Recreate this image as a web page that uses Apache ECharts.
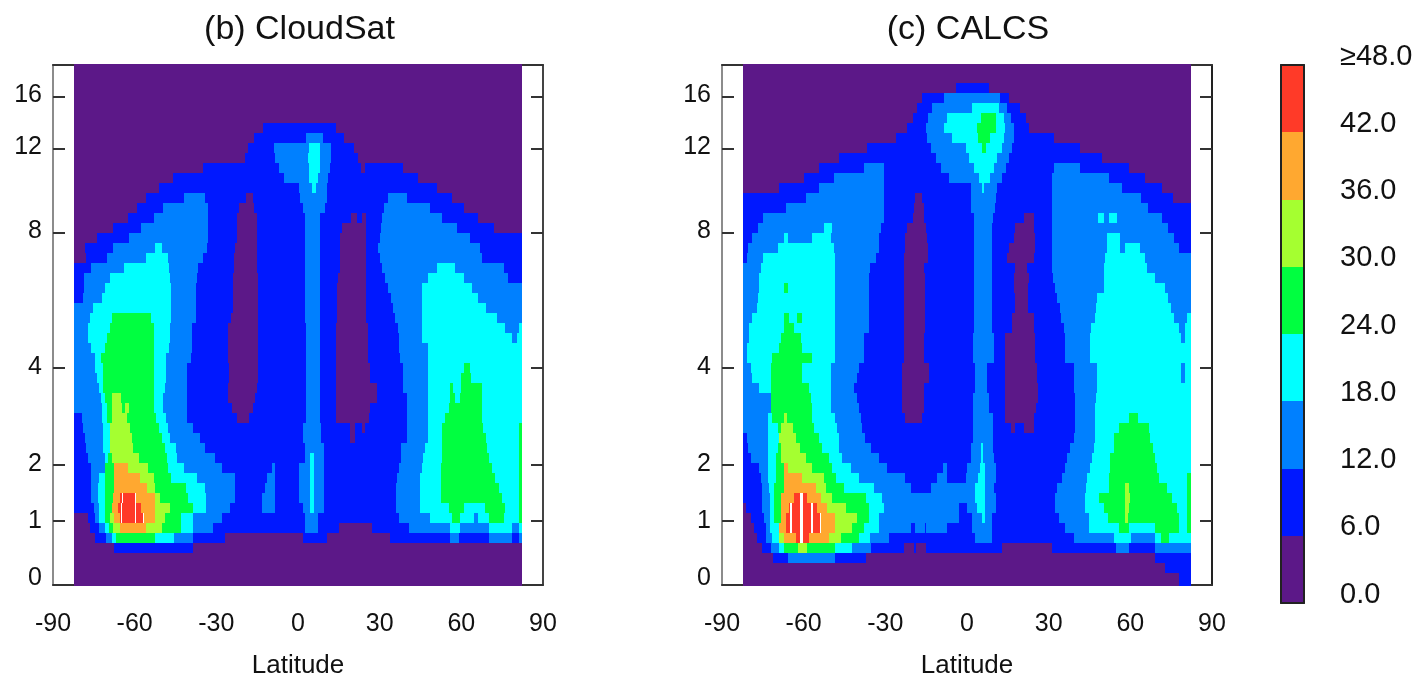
<!DOCTYPE html>
<html>
<head>
<meta charset="utf-8">
<title>CloudSat / CALCS</title>
<script src="https://cdn.jsdelivr.net/npm/echarts@6/dist/echarts.min.js"></script>
<style>
html, body { margin: 0; padding: 0; background: #fff; }
#chart { width: 1419px; height: 674px; }
</style>
</head>
<body>
<div id="chart"></div>
<script>
// colour classes of the field, 0 = 0-6 ... 7 = >=42, 8 = off scale (white streaks)
var levelColors = ['#5c1888', '#0018ff', '#0080ff', '#00ffff', '#00ff40', '#a5ff30', '#ffa830', '#ff3a28', '#ffffff'];
var scaleValues = [0, 6, 12, 18, 24, 30, 36, 42, 48];
var latTicks = [-90, -60, -30, 0, 30, 60, 90];
var heightLabels = ['0', '1', '2', '4', '8', '12', '16'];
var heightLabelPos = [7, 64, 121, 218, 354, 438, 490];
var heightTickPos = [64, 120, 217, 352, 436, 488];

// each row, top to bottom: class, latitude where it ends, class, latitude where it ends...
var cloudsatRows = [
    [0,82.4],[0,82.4],[0,82.4],[0,82.4],[0,82.4],[0,82.4],
    [0,-13,1,14,0,82.4],
    [0,-16,1,3,2,9,1,17,0,82.4],
    [0,-18.5,1,-9,2,4,3,8,2,12,1,20.5,0,82.4],
    [0,-19.5,1,-8.5,2,3.5,3,8,2,12,1,22,0,82.4],
    [0,-35,1,-7,2,4,3,8,2,11.8,1,23,0,24.5,1,38.7,0,82.4],
    [0,-46,1,-5,2,4,3,7.5,2,11,1,44,0,82.4],
    [0,-51,1,0.5,2,5,3,6.5,2,10.5,1,51,0,82.4],
    [0,-56,1,-42,2,-34,1,-19,0,-16.5,1,0.7,2,10.5,1,33,2,40,1,56.5,0,82.4],
    [0,-59,1,-49.5,2,-33,1,-21.5,0,-16,1,2,2,10,1,31.7,2,48.5,1,61,0,82.4],
    [0,-62.5,1,-53,2,-33,1,-22.5,0,-15,1,2.6,2,8,1,19.5,0,21.5,1,23.5,0,25,1,31,2,53,1,66,0,82.4],
    [0,-68,1,-57.5,2,-33,1,-22.5,0,-15,1,2.6,2,8,1,16,0,25,1,30.5,2,58.5,1,72,0,82.4],
    [0,-74,1,-62,2,-33,1,-22.5,0,-15,1,2.6,2,8,1,15.5,0,25,1,30,2,63,1,82.4],
    [0,-78.3,1,-68,2,-52.5,3,-50,2,-33.6,1,-23,0,-15,1,2.6,2,8,1,15.5,0,25,1,29.5,2,67,1,82.4],
    [0,-78,1,-70,2,-56,3,-47.7,2,-35,1,-23.5,0,-15,1,2.6,2,8,1,15.5,0,25,1,30,2,67.5,1,82.4],
    [1,-76,2,-64,3,-47.5,2,-36.6,1,-23.5,0,-15,1,2.6,2,8,1,15.5,0,25,1,31,2,51,3,57.7,2,75.5,1,82.4],
    [1,-78.5,2,-69,3,-47.2,2,-37,1,-23.8,0,-14.6,1,2.6,2,8,1,14.6,0,25,1,32,2,47.9,3,61,2,77,1,82.4],
    [1,-78.5,2,-71,3,-46.5,2,-37.3,1,-24,0,-14.6,1,2.6,2,8,1,14.2,0,25,1,33,2,45.7,3,64,2,82.4],
    [1,-79,2,-72,3,-46.5,2,-37.3,1,-24,0,-14.6,1,2.6,2,8,1,14.2,0,25,1,34,2,45.5,3,66,2,82.4],
    [2,-75.2,3,-46.5,2,-37.3,1,-24,0,-14.6,1,2.6,2,8,1,14.2,0,25,1,35,2,45.5,3,69,2,82.4],
    [2,-76.5,3,-68.5,4,-54,3,-46.5,2,-37.3,1,-24.5,0,-14.6,1,2.6,2,8,1,14.2,0,25,1,35.5,2,45.5,3,73,2,82.4],
    [2,-77,3,-69,4,-53,3,-47,2,-39,1,-25.6,0,-14.6,1,2.8,2,8.2,1,13.8,0,25.6,1,36.6,2,45.5,3,76,2,81,3,82.4],
    [2,-77,3,-70,4,-53,3,-47,2,-39,1,-25.6,0,-14.6,1,2.8,2,8.2,1,13.8,0,25.6,1,37,2,45.5,3,78.6,2,80.4,3,82.4],
    [2,-76,3,-71,4,-53,3,-47.5,2,-39,1,-25.6,0,-14.6,1,2.8,2,8.2,1,13.8,0,25.6,1,37,2,47.7,3,82.4],
    [2,-74.6,3,-72.5,4,-53,3,-48.5,2,-39.4,1,-25.6,0,-14.6,1,2.8,2,8.2,1,13.8,0,25.6,1,37.5,2,47.7,3,82.4],
    [2,-74.6,3,-71.6,4,-53,3,-48.5,2,-40.7,1,-25.4,0,-14.8,1,2.8,2,8.2,1,13.9,0,26.5,1,38.7,2,47.7,3,61,4,63,3,82.4],
    [2,-74,3,-71.6,4,-53,3,-48.5,2,-40.7,1,-25.4,0,-14.8,1,2.8,2,8.2,1,13.9,0,26.5,1,38.7,2,47.7,3,60,4,63.5,3,82.4],
    [2,-73,3,-71.6,4,-53,3,-49,2,-40.7,1,-25.6,0,-15.2,1,2.8,2,8.2,1,13.9,0,29,1,38.7,2,47.7,3,56,4,57,3,60,4,67.5,3,82.4],
    [2,-72.5,3,-71,4,-68.5,5,-65,4,-53,3,-49.5,2,-40.7,1,-25.6,0,-15.8,1,2.8,2,8.2,1,13.9,0,29,1,40,2,47.7,3,56,4,57.5,3,59.6,4,67.5,3,82.4],
    [2,-72,3,-70.3,4,-68.5,5,-64.5,4,-63.6,5,-62,4,-53,3,-49.5,2,-40.7,1,-24.4,0,-16.4,1,2.8,2,8.2,1,13.9,0,26.5,1,40,2,47.7,3,55.3,4,67.5,3,82.4],
    [1,-79.5,2,-72,3,-70,4,-68.5,5,-62.7,4,-52,3,-48.5,2,-40.7,1,-22.5,0,-18,1,2.8,2,8.2,1,13.9,0,26,1,40,2,47.7,3,54,4,67.5,3,82.4],
    [1,-79,2,-71.6,3,-69,5,-61.8,4,-51,3,-47.7,2,-38.7,1,2,2,8.5,1,19,0,21,1,23.5,0,24.6,1,40,2,47.7,3,53,4,68,3,81,4,82.4],
    [1,-78.3,2,-71.5,3,-69,5,-61,4,-50,3,-47,2,-36,1,2,2,8.5,1,19,0,21,1,40,2,47.7,3,53,4,69,3,81,4,82.4],
    [1,-77.7,2,-71.5,3,-69,5,-60.5,4,-49,3,-45,2,-34,1,2.6,2,9.7,1,38,2,46.7,3,53,4,69.5,3,81,4,82.4],
    [1,-77,2,-71,3,-69.7,4,-68.5,5,-58.5,4,-48,3,-44.6,2,-30.5,1,2.6,2,4.4,3,6,2,9.7,1,38,2,46,3,53,4,70,3,81,4,82.4],
    [1,-76,2,-71,4,-67.6,6,-62.4,5,-55,4,-47.7,3,-42,2,-28,1,-9.5,2,-8.5,1,0.4,2,4.4,3,6,2,9.7,1,37,2,45.5,3,52.5,4,71.2,3,81,4,82.4],
    [1,-76,2,-73,3,-71,4,-67.6,6,-58,5,-53,4,-46.5,3,-37,2,-23,1,-11.5,2,-8.5,1,0.4,2,4.4,3,6,2,9.7,1,36.3,2,44.8,3,52.5,4,72.4,3,81,4,82.4],
    [1,-76,2,-73.5,3,-71,4,-67.6,6,-55.6,5,-52.5,4,-41,3,-34,2,-23,1,-12,2,-8.5,1,0.4,2,4.4,3,6,2,9.7,1,36,2,44.8,3,52.5,4,74,3,81,4,82.4],
    [1,-76,2,-73.5,3,-71,4,-68,6,-65.4,7,-64.8,8,-64.2,7,-60,8,-59.5,6,-52.5,5,-50.7,4,-40.3,3,-33.8,2,-23,1,-13.4,2,-8.5,1,0.4,2,4.4,3,6,2,9.7,1,36,2,44.8,3,52.5,4,75,3,81,4,82.4],
    [1,-75,2,-73,3,-71,4,-68.5,6,-66,7,-65,8,-64.5,7,-60,8,-59.4,7,-57.5,6,-52.5,5,-47,4,-38.5,3,-33.8,2,-25,1,-13.4,2,-8.5,1,2,2,4.4,3,6,2,9.7,1,36,2,44.8,3,55.3,4,60.8,3,68.8,4,76,3,81,4,82.4],
    [0,-77,1,-74.6,2,-73,3,-71,4,-69,5,-67.6,6,-65.4,7,-65,8,-64.5,7,-60,8,-59.4,7,-57,8,-56.5,6,-52.5,5,-49,4,-42.8,3,-38.5,2,-28,1,2.6,2,7.5,1,37,2,48.5,3,56.5,4,59.6,3,64.5,2,66,3,70,4,75.5,3,81,4,82.4],
    [0,-76.5,1,-73,2,-71,3,-69.5,4,-68,5,-65.4,6,-56,5,-50,4,-43,3,-38.5,2,-31.4,1,2.6,2,7.5,1,15,0,27.3,1,40.6,2,55.8,3,59.6,2,70,3,78.5,2,81,3,82.4],
    [0,-74.5,1,-70.5,2,-68.5,3,-66.7,4,-52.6,3,-45.5,2,-38.5,1,-27,0,2,1,10.5,0,33.8,1,55.8,2,59,1,70,2,78.5,1,81,2,82.4],
    [0,-67.7,1,-38.5,0,82.4],
    [0,82.4],[0,82.4],[0,82.4]
];

var calcsRows = [
    [0,82.4],[0,82.4],
    [0,-4,1,8,0,82.4],
    [0,-16.4,1,-8.5,2,12,1,15.3,0,82.4],
    [0,-18.3,1,-12.8,2,2,3,11.7,2,14.7,1,19.6,0,82.4],
    [0,-20,1,-14.4,2,-7.3,3,5,4,10.5,3,13.5,2,16,1,21.5,0,82.4],
    [0,-22,1,-15.2,2,-8.5,3,3.7,4,10.5,3,13.9,2,17.2,1,22.7,0,82.4],
    [0,-26.2,1,-14.6,2,-5.5,3,4,4,8.6,3,13.5,2,17.2,1,31.8,0,82.4],
    [0,-36.6,1,-13.4,2,-0.5,3,5.6,4,7,3,12.9,2,16.6,1,41.6,0,82.4],
    [0,-47,1,-11.5,2,0.7,3,11,2,15.3,1,49.6,0,82.4],
    [0,-54.4,1,-38,2,-30.5,1,-9.7,2,2.5,3,9.9,2,14.4,1,32,2,41.6,1,59.4,0,82.4],
    [0,-60,1,-49,2,-30.5,1,-6.7,2,4.3,3,8.3,2,12.9,1,31.2,2,52,1,65.5,0,82.4],
    [0,-69,1,-54.4,2,-30.5,1,1.3,2,5.5,3,6.3,2,11,1,31.2,2,57,1,71.6,0,82.4],
    [1,-59.3,2,-30.5,1,-19,0,-16.5,1,1.3,2,10.5,1,31.2,2,63.8,1,75.5,0,82.4],
    [1,-66.6,2,-30.5,1,-19.3,0,-15.8,1,1.3,2,10.2,1,31.2,2,66.5,1,82.4],
    [1,-75,2,-30.5,1,-20,0,-15.8,1,2.5,2,9.5,1,21,0,24.5,1,31.2,2,48,3,50.5,2,52,3,55,2,71.6,1,82.4],
    [1,-76.7,2,-52.5,3,-49.5,2,-31.7,1,-22,0,-15.2,1,2.5,2,9.2,1,17.8,0,24.5,1,31.2,2,74,1,82.4],
    [1,-78.8,2,-67.4,3,-65.7,2,-57,3,-50,2,-32.4,1,-22.6,0,-14.6,1,2.5,2,9.2,1,17.2,0,24.9,1,31.2,2,51.4,3,56.3,2,75.9,1,82.4],
    [1,-80.6,2,-69.6,3,-48.9,2,-32.4,1,-22.6,0,-14.4,1,2.5,2,9.2,1,15.3,0,24.9,1,31.2,2,51.4,3,56.3,2,58.1,3,63.6,2,77.7,1,82.4],
    [1,-81,2,-74.8,3,-48.5,2,-33.6,1,-23,0,-14.4,1,2.5,2,9.2,1,14.7,0,24.5,1,31.2,2,50.8,3,65.5,2,82.4],
    [2,-75.7,3,-48.5,2,-35.6,1,-23,0,-15.8,1,2.5,2,9,1,17.8,0,22.1,1,31.2,2,50.2,3,66.1,2,82.4],
    [2,-76.5,3,-48.5,2,-36,1,-23.2,0,-15.6,1,2.5,2,9,1,17.2,0,22.7,1,31.5,2,50.2,3,69,2,82.4],
    [2,-76.4,3,-67.4,4,-65.7,3,-48.5,2,-36,1,-23.2,0,-15.6,1,2.5,2,9,1,17.2,0,22.5,1,32.5,2,50.2,3,72.8,2,82.4],
    [2,-76.6,3,-48.5,2,-36,1,-23.2,0,-15.6,1,2.5,2,9,1,17.8,0,22.5,1,33,2,47.8,3,74,2,82.4],
    [2,-77.3,3,-48.5,2,-36,1,-23.2,0,-15.6,1,2.5,2,9,1,17.8,0,22.5,1,34,2,47.4,3,75,2,82.4],
    [2,-79,3,-67.4,4,-65.4,3,-62.5,4,-60.5,3,-48.5,2,-36,1,-23.2,0,-15.6,1,2.5,2,9,1,16.6,0,24.5,1,34.5,2,46.9,3,75.9,2,80.8,3,82.4],
    [2,-80,3,-67.4,4,-63.5,3,-48.5,2,-36,1,-23.2,0,-15.6,1,2.5,2,9,1,16.6,0,24.5,1,35.5,2,45.7,3,77.7,2,80.2,3,82.4],
    [2,-80,3,-68.4,4,-61,3,-48.6,2,-37.8,1,-23.2,0,-15.8,1,2.1,2,9.8,1,14.1,0,24.9,1,36.1,2,45.3,3,78.7,2,80.2,3,82.4],
    [2,-81,3,-69,4,-60.5,3,-48.6,2,-37.8,1,-23.2,0,-15.8,1,2.1,2,9.8,1,14.1,0,24.9,1,36.1,2,45.3,3,82.4],
    [2,-81,3,-71.5,4,-56.8,3,-48.6,2,-38,1,-23.2,0,-15.8,1,2.1,2,9.8,1,14.1,0,24.9,1,36.1,2,45.3,3,82.4],
    [2,-79.4,3,-72,4,-60.5,3,-50,2,-39.7,1,-23.8,0,-14,1,3.1,2,7.4,1,13.9,0,25.7,1,39.2,2,47.8,3,78.7,2,80.2,3,82.4],
    [2,-78.8,3,-72,4,-60.5,3,-50,2,-40.3,1,-23.8,0,-14,1,3.1,2,7.4,1,13.9,0,25.7,1,39.2,2,47.8,3,78.7,2,80.2,3,82.4],
    [2,-76.5,3,-72,4,-58,3,-50,2,-41.5,1,-23.8,0,-15.8,1,3.1,2,7.4,1,13.9,0,26,1,39.2,2,47.8,3,82.4],
    [2,-72,4,-57.4,3,-50,2,-40.3,1,-23.8,0,-15.8,1,2.1,2,8.2,1,13.9,0,26,1,39.8,2,47.4,3,82.4],
    [2,-72,4,-56.8,3,-50,2,-39.7,1,-23.8,0,-15.8,1,2.1,2,8.2,1,13.9,0,25.4,1,39.8,2,47.2,3,82.4],
    [2,-73,3,-71.5,4,-67.4,5,-66,4,-56.8,3,-48.6,2,-39,1,-22.6,0,-16.5,1,2.1,2,9.5,1,13.9,0,24.5,1,39.8,2,47.2,3,59.4,4,62.8,3,82.4],
    [2,-73,3,-69.6,4,-68.2,5,-64.1,4,-56.2,3,-47.9,2,-38.5,1,2.1,2,9.5,1,16,0,17.8,1,20.8,0,24.5,1,39.8,2,47.2,3,55.7,4,66.7,3,82.4],
    [1,-81,2,-73,3,-69,5,-62.9,4,-54.4,3,-47,2,-37.3,1,2.1,2,9.5,1,39.2,2,47.2,3,54.1,4,67.3,3,82.4],
    [1,-80.4,2,-73,3,-69.6,4,-68.2,5,-61.3,4,-53.1,3,-47,2,-35.4,1,1.3,2,5,3,5.8,2,9.5,1,38,2,46.5,3,54.1,4,68.5,3,82.4],
    [1,-79.4,2,-73,3,-70,4,-68.2,5,-59.2,4,-50.7,3,-45.8,2,-32.4,1,1.3,2,5,3,5.8,2,10,1,36.7,2,45.9,3,52.6,4,69.1,3,82.4],
    [1,-76.4,2,-73,3,-70.3,4,-67.4,6,-65.7,5,-56.8,4,-49.5,3,-42.7,2,-29.3,1,-9,2,-7.3,1,0,2,4.6,3,6.5,2,10.5,1,36.1,2,45.3,3,52.6,4,69.8,3,82.4],
    [1,-75.8,2,-73,3,-70.3,4,-67.4,6,-60.5,5,-52.5,4,-48.2,3,-39.7,2,-22.6,1,-11,2,-7.3,1,-0.5,2,4,3,6.5,2,10.5,1,35,2,44.1,3,52,4,70.4,3,80.8,4,82.4],
    [1,-75.2,2,-72.7,3,-70.9,4,-67.4,6,-55.6,5,-51.9,4,-45.2,3,-34.2,2,-20.7,1,-13.4,2,3,3,6.5,2,10,1,33,2,43.7,3,52,4,58,5,59.6,4,73.4,3,80.8,4,82.4],
    [1,-75.2,2,-72.3,3,-70.9,4,-68.4,6,-63.5,7,-61.3,8,-60.3,7,-58.6,6,-53.5,5,-49.5,4,-37.2,3,-31.1,2,3,3,6.5,2,10.5,1,32.2,2,43.2,3,48.6,4,58,5,59.8,4,75.3,3,80.8,4,82.4],
    [0,-81.2,1,-75.2,2,-72.3,3,-71,4,-68.4,6,-65.4,7,-65,8,-64.4,7,-61.3,8,-60.3,7,-57.2,8,-56.7,7,-55,6,-51.3,5,-44.6,4,-36,3,-30.5,2,-3,1,0,2,3.5,3,6.5,2,10.5,1,32.2,2,43.2,3,50.2,4,58,5,59.6,4,77.1,3,80.8,4,82.4],
    [0,-79.4,1,-74.5,2,-72.3,3,-71,4,-68.4,6,-66.6,7,-65,8,-64.4,7,-61.3,8,-60.3,7,-57.2,8,-56.7,7,-54,8,-53.5,6,-48.6,5,-40.3,4,-36,3,-32.4,2,-3,1,1.9,2,5.5,3,6.5,2,9.2,1,33.7,2,44.7,3,51.8,4,58.1,5,59.1,4,77.7,3,80.8,4,82.4],
    [0,-78.2,1,-74,2,-72.3,3,-69,6,-66.6,7,-65,8,-64.4,7,-61.3,8,-60.3,7,-57.2,8,-56.7,7,-54,8,-53.5,6,-48.6,5,-42.1,4,-37.8,3,-32.4,2,-20.7,1,-19,2,-15.5,1,-15,2,-7.3,1,1.9,2,9.2,1,36,2,44.7,3,55.7,4,59.4,3,69.1,4,77.7,3,80.8,4,82.4],
    [0,-77,1,-74,2,-71.5,3,-69,5,-67.4,6,-62.9,7,-61.3,8,-60.3,7,-58,6,-50.7,5,-46.2,4,-39.7,3,-35.6,2,-28.7,1,2.9,2,9,1,39.2,2,54.1,3,60.2,2,69.1,3,71.4,4,74.3,3,82.4],
    [0,-75.2,1,-72.1,2,-69,3,-67.2,4,-62.1,5,-58.6,4,-48.6,3,-42.1,2,-35.2,1,-23.2,0,-19.3,1,-18.7,0,-15.2,1,13,0,31.2,1,54.8,2,59.4,1,69.1,2,82.4],
    [0,-71.2,1,-65.7,2,-48.6,1,-37.2,0,69.1,1,82.4],
    [0,72.8,1,82.4],
    [0,77.7,1,82.4]
];

// row edges on the (stretched) height axis, top to bottom; the field runs over the frame by a pixel
var rowEdges = [521, 512];
for (var r = 1; r < 49; r++) rowEdges.push(512 - r * 10);
rowEdges.push(22, 12, -1);

var font = 'Liberation Sans, Helvetica, Arial, sans-serif';
var textColor = '#111';
var westEdge = -82.4;

// [lat start, lat end, y low, y high, class]
function rowsToCells(rows) {
    var cells = [];
    rows.forEach(function (row, i) {
        var start = westEdge;
        for (var k = 0; k < row.length; k += 2) {
            cells.push([start, row[k + 1], rowEdges[i + 1], rowEdges[i], row[k]]);
            start = row[k + 1];
        }
    });
    return cells;
}

function renderCell(params, api) {
    var a = api.coord([api.value(0), api.value(3)]);
    var b = api.coord([api.value(1), api.value(2)]);
    var x0 = Math.round(a[0]), y0 = Math.round(a[1]);
    return {
        type: 'rect',
        shape: { x: x0, y: y0, width: Math.round(b[0]) - x0, height: Math.round(b[1]) - y0 },
        style: { fill: levelColors[api.value(4)] }
    };
}

function cellSeries(cells, panel) {
    return {
        type: 'custom',
        coordinateSystem: 'cartesian2d',
        xAxisIndex: panel * 2,
        yAxisIndex: panel * 2,
        renderItem: renderCell,
        encode: { x: [0, 1], y: [2, 3] },
        data: cells,
        silent: true,
        animation: false,
        z: 2
    };
}

var grids = [
    { left: 53, top: 65, width: 490, height: 520, outerBoundsMode: 'none' },
    { left: 722, top: 65, width: 490, height: 520, outerBoundsMode: 'none' },
    { left: 1281, top: 65, width: 23, height: 538, outerBoundsMode: 'none' }
];
var xAxes = [], yAxes = [];

function addPanel(g, leftColor, rightColor) {
    xAxes.push({
        type: 'value', gridIndex: g, position: 'bottom', min: -90, max: 90, interval: 30,
        name: 'Latitude', nameLocation: 'middle', nameGap: 68,
        nameTextStyle: { fontFamily: font, fontSize: 26, color: textColor },
        axisLine: { onZero: false, lineStyle: { color: '#333', width: 2 } },
        axisTick: { show: false }, splitLine: { show: false },
        axisLabel: {
            margin: 27, fontFamily: font, fontSize: 25, color: textColor,
            customValues: latTicks, showMinLabel: true, showMaxLabel: true
        }
    });
    xAxes.push({
        type: 'value', gridIndex: g, position: 'top', min: -90, max: 90,
        axisLine: { onZero: false, lineStyle: { color: '#333', width: 2 } },
        axisTick: { show: false }, axisLabel: { show: false }, splitLine: { show: false }
    });
    yAxes.push({
        type: 'value', gridIndex: g, position: 'left', min: 0, max: 520,
        axisLine: { show: true, onZero: false, lineStyle: { color: leftColor, width: 2 } },
        axisTick: { show: true, inside: true, length: 12, customValues: heightTickPos, lineStyle: { color: '#333', width: 2 } },
        splitLine: { show: false },
        axisLabel: {
            margin: 11, fontFamily: font, fontSize: 25, color: textColor,
            customValues: heightLabelPos, showMinLabel: true, showMaxLabel: true,
            formatter: function (v) { return heightLabels[heightLabelPos.indexOf(v)]; }
        }
    });
    yAxes.push({
        type: 'value', gridIndex: g, position: 'right', min: 0, max: 520,
        axisLine: { show: true, onZero: false, lineStyle: { color: rightColor, width: 2 } },
        axisTick: { show: true, inside: true, length: 12, customValues: heightTickPos, lineStyle: { color: '#333', width: 2 } },
        axisLabel: { show: false }, splitLine: { show: false }
    });
}
addPanel(0, '#8c8c8c', '#444');
addPanel(1, '#8c8c8c', '#222');

// colour bar
['bottom', 'top'].forEach(function (pos) {
    xAxes.push({
        type: 'value', gridIndex: 2, position: pos, min: 0, max: 1, z: 5,
        axisLine: { onZero: false, lineStyle: { color: '#222', width: 2 } },
        axisTick: { show: false }, axisLabel: { show: false }, splitLine: { show: false }
    });
});
yAxes.push({
    type: 'value', gridIndex: 2, position: 'left', min: 0, max: 48, z: 5,
    axisLine: { show: true, onZero: false, lineStyle: { color: '#222', width: 2 } },
    axisTick: { show: false }, axisLabel: { show: false }, splitLine: { show: false }
});
yAxes.push({
    type: 'value', gridIndex: 2, position: 'right', min: 0, max: 48, interval: 6, z: 5,
    axisLine: { show: true, onZero: false, lineStyle: { color: '#222', width: 2 } },
    axisTick: { show: false }, splitLine: { show: false },
    axisLabel: {
        margin: 36, fontFamily: font, fontSize: 29, color: textColor,
        verticalAlign: 'bottom', lineHeight: 17,
        showMinLabel: true, showMaxLabel: true,
        formatter: function (v) { return v === 48 ? '\u226548.0' : v.toFixed(1); }
    }
});

var barCells = [];
for (var s = 0; s < scaleValues.length - 1; s++) {
    barCells.push([0, 1, scaleValues[s], scaleValues[s + 1], s]);
}

function titleAt(text, x) {
    return {
        text: text, left: x, top: 13, padding: 0, textAlign: 'center',
        textStyle: { fontFamily: font, fontSize: 34, fontWeight: 'normal', color: textColor }
    };
}

var myChart = echarts.init(document.getElementById('chart'));

myChart.setOption({
    animation: false,
    backgroundColor: '#fff',
    title: [titleAt('(b) CloudSat', 299.5), titleAt('(c) CALCS', 968)],
    grid: grids,
    xAxis: xAxes,
    yAxis: yAxes,
    series: [
        cellSeries(rowsToCells(cloudsatRows), 0),
        cellSeries(rowsToCells(calcsRows), 1),
        cellSeries(barCells, 2)
    ]
});
</script>
</body>
</html>
